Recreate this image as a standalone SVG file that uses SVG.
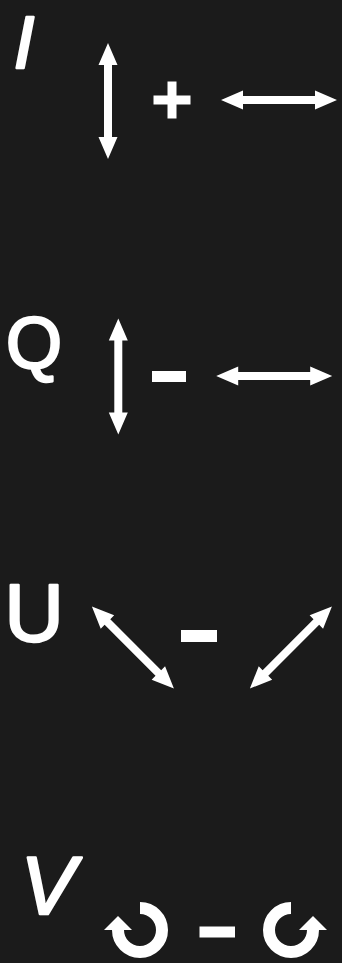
<svg xmlns="http://www.w3.org/2000/svg" xmlns:xlink="http://www.w3.org/1999/xlink" width="342" height="963" viewBox="0 0 342 963">
<style>
.bg{fill:#1b1b1b}
.w{fill:#ffffff}
.lbl{font-family:"Liberation Sans","DejaVu Sans",sans-serif;fill:#ffffff;stroke:#ffffff;stroke-width:2.5;stroke-linejoin:round;text-anchor:middle}
.it{font-style:italic}
.ring{fill:none;stroke:#ffffff;stroke-width:12}
</style>
<defs>
<path id="dbl" d="M-58,0 L-36,-9.5 L-36,-4 L36,-4 L36,-9.5 L58,0 L36,9.5 L36,4 L-36,4 L-36,9.5 Z" fill="#ffffff"/>
</defs>
<rect class="bg" x="0" y="0" width="342" height="963"/>
<g id="label-I"><text class="lbl it" x="24" y="68" font-size="74">I</text></g>
<g id="label-Q"><text class="lbl" x="34" y="368" font-size="72">Q</text></g>
<g id="label-U"><text class="lbl" x="34" y="641" font-size="82">U</text></g>
<g id="label-V"><text class="lbl it" x="48" y="914" font-size="82">V</text></g>
<g id="op-plus" class="w">
<rect x="153.5" y="95.5" width="37" height="9"/>
<rect x="167.5" y="81.5" width="9" height="37"/>
</g>
<g id="op-minus-Q" class="w"><rect x="152" y="371" width="34" height="11"/></g>
<g id="op-minus-U" class="w"><rect x="181" y="630" width="36" height="12"/></g>
<g id="op-minus-V" class="w"><rect x="199.5" y="926.5" width="35.5" height="11"/></g>
<g id="connectors">
<use xlink:href="#dbl" transform="translate(108,101) rotate(90)"/>
<use xlink:href="#dbl" transform="translate(279,100)"/>
<use xlink:href="#dbl" transform="translate(118.3,376.6) rotate(90)"/>
<use xlink:href="#dbl" transform="translate(274.2,376)"/>
<use xlink:href="#dbl" transform="translate(132.9,647.5) rotate(45)"/>
<use xlink:href="#dbl" transform="translate(290.9,647.5) rotate(-45)"/>
</g>
<g id="rot-cw">
<path class="ring" d="M140,908 A22,22 0 1 1 118,930"/>
<polygon class="w" points="104,930 132,930 118,916"/>
</g>
<g id="rot-ccw">
<path class="ring" d="M291,908 A22,22 0 1 0 313,930"/>
<polygon class="w" points="299,930 327,930 313,916"/>
</g>
</svg>
